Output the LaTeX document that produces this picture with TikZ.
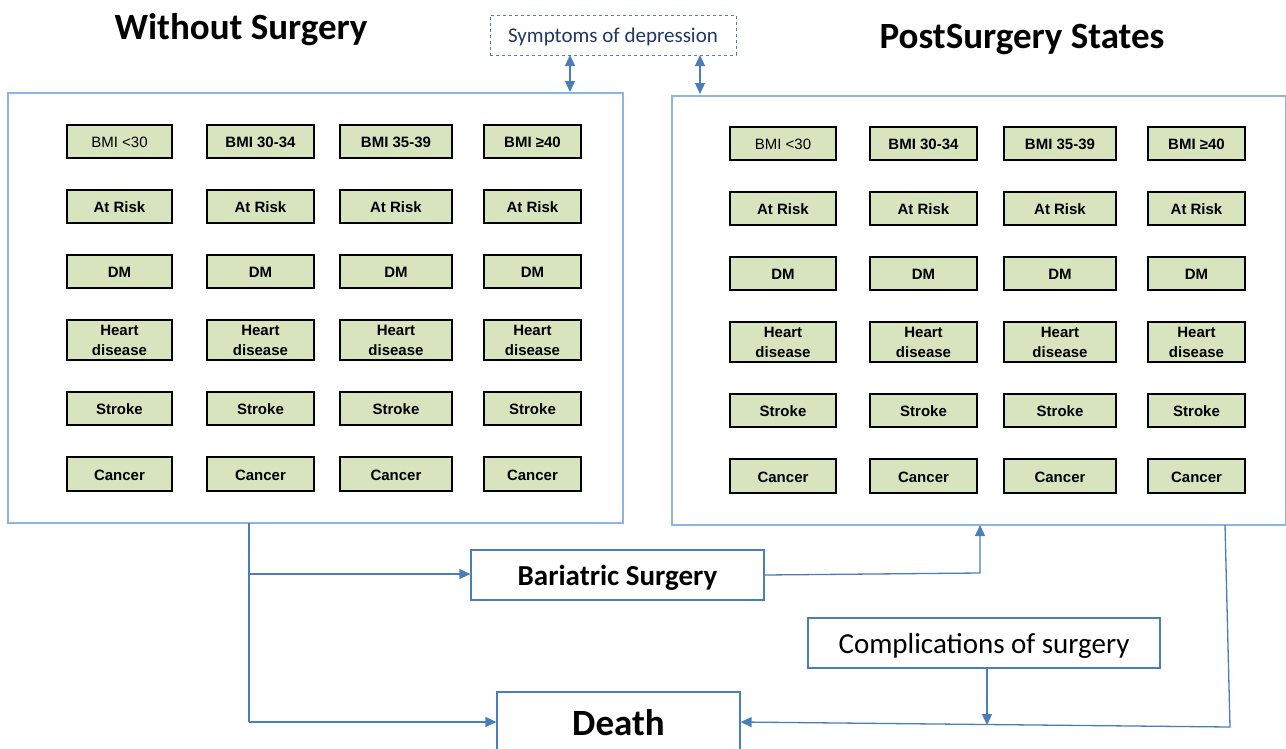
\documentclass[tikz,border=0pt]{standalone}
\usepackage{fontspec}
\setmainfont{Carlito}
\newfontfamily\cellfont{Liberation Sans}
\usetikzlibrary{arrows.meta,calc}
\definecolor{framec}{HTML}{8EB4E3}
\definecolor{linec}{HTML}{4A7EBB}
\definecolor{cellfill}{HTML}{D7E4BD}
\definecolor{deptext}{HTML}{1F3864}
\tikzset{
  bigframe/.style={draw=framec, line width=1.5pt},
  cellbox/.style={draw=black, line width=2pt, fill=cellfill, inner sep=0pt, align=center,
     font=\cellfont\fontsize{15}{18}\selectfont\bfseries},
  flowbox/.style={draw=linec, line width=1.2pt, inner sep=0pt, fill=white},
  conn/.style={draw=linec, line width=1.3pt},
  tip/.style={-{Triangle[length=11pt,width=10pt]}},
  bothtip/.style={{Triangle[length=11pt,width=10pt]}-{Triangle[length=11pt,width=10pt]}},
}
\newcommand{\bmiA}{\mdseries BMI <30}
\newcommand{\lowr}[2]{\raisebox{-#1pt}[\height][\depth]{#2}}
\begin{document}
\begin{tikzpicture}[x=1pt,y=-1pt]
\useasboundingbox (0,0) rectangle (1286,748);
% titles
\node[font=\fontsize{37}{42}\selectfont\bfseries] (t1) at (241,30) {Without Surgery};
\node[font=\fontsize{37}{42}\selectfont\bfseries] (t2) at (1022,39) {PostSurgery States};
% depression
\node[draw=linec, dashed, line width=1pt, minimum width=246pt, minimum height=40pt, inner sep=0pt,
      text=deptext, font=\fontsize{21}{24}\selectfont] (dep) at (613,35) {\lowr{2}{Symptoms of depression}};
% big frames
\node[bigframe, minimum width=615pt, minimum height=430pt, inner sep=0pt] (left) at (315.5,308) {};
\node[bigframe, minimum width=614pt, minimum height=429pt, inner sep=0pt] (right) at (979,310.5) {};
% cells
\foreach \side/\dy/\xs in {L/0/{119.5/105/{\bmiA}, 260.5/107/{BMI 30-34}, 396/112/{BMI 35-39}, 532.5/97/{BMI ≥40}},
                          R/2/{783/106/{\bmiA}, 923.5/107/{BMI 30-34}, 1060/112/{BMI 35-39}, 1196.5/97/{BMI ≥40}}}{
  \foreach \cx/\w/\first [count=\c] in \xs {
    \node[cellbox, minimum width=\w pt, minimum height=33pt] (\side\c1) at (\cx,141.5+\dy) {\lowr{1}{\first}};
    \foreach \cy/\h/\txt [count=\r from 2] in {206.5/33/{\lowr{1}{At Risk}}, 271.5/33/{\lowr{1}{DM}}, 340/40/{Heart\\[2pt]disease}, 408.5/33/{\lowr{1}{Stroke}}, 474/34/{\lowr{1}{Cancer}}}{
      \node[cellbox, minimum width=\w pt, minimum height=\h pt] (\side\c\r) at (\cx,\cy+\dy) {\txt};
    }
  }
}
% flow boxes
\node[flowbox, minimum width=293pt, minimum height=50pt, font=\fontsize{29}{34}\selectfont\bfseries] (bar) at (617.5,575) {\lowr{3}{Bariatric Surgery}};
\node[flowbox, minimum width=352pt, minimum height=50pt, font=\fontsize{29}{34}\selectfont] (comp) at (984,643) {\lowr{3}{Complications of surgery}};
\node[flowbox, minimum width=243pt, minimum height=62pt] (death) at (618.5,723) {};
\node[font=\fontsize{37}{42}\selectfont\bfseries] (deathlbl) at (618.5,723) {Death};
% coordinates
\coordinate (lb) at (249,523);
\coordinate (lbar) at (249,574);
\coordinate (ld) at (249,722);
\coordinate (rbup) at (980,573);
\coordinate (rb) at (980,525);
\coordinate (rr) at (1225,525);
\coordinate (rrd) at (1230,727);
\coordinate (cd) at (987,725);
\coordinate (d1a) at (570,55);
\coordinate (d1b) at (570,92);
\coordinate (d2a) at (700,55);
\coordinate (d2b) at (700,94);
% connectors
\draw[conn, bothtip] (d1a) -- (d1b);
\draw[conn, bothtip] (d2a) -- (d2b);
\draw[conn] (lb) -- (ld);
\draw[conn, tip] (ld) -- (death.west |- ld);
\draw[conn, tip] (lbar) -- (bar.west |- lbar);
\draw[conn, tip] (bar.east) -- (rbup) -- (rb);
\draw[conn, tip] (rr) -- (rrd) -- (death.east |- ld);
\draw[conn, tip] (comp.south -| cd) -- (cd);
\end{tikzpicture}
\end{document}
